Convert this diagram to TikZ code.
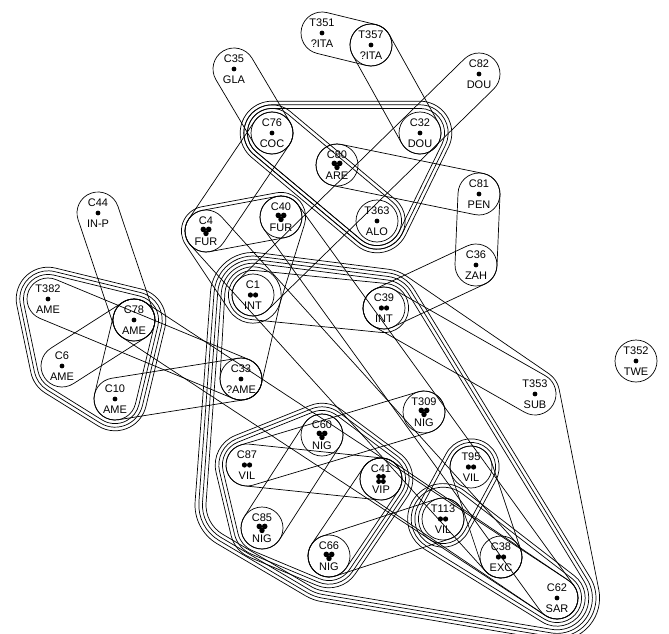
\documentclass[tikz,border=0pt]{standalone}
\usepackage{fontspec}
\setmainfont{Liberation Sans}
\usetikzlibrary{calc}
\tikzset{hl/.style={line width=0.7pt},lab/.style={font=\fontsize{11}{11}\selectfont,inner sep=0pt}}
\newcommand\hseg[4]{%
  \pgfpointdiff{\pgfpointanchor{#1}{center}}{\pgfpointanchor{#3}{center}}%
  \pgfgetlastxy\hdx\hdy
  \pgfmathsetmacro\hL{veclen(\hdx,\hdy)}%
  \pgfmathsetmacro\hang{atan2(\hdy,\hdx)}%
  \pgfmathsetmacro\hn{\hang-acos((#2-#4)/\hL)}%
}
\newcommand\hull[1]{%
  \gdef\hA{}\gdef\rA{0}\gdef\hB{}\gdef\rB{0}%
  \foreach \hC/\hR [count=\hcnt] in {#1}{%
    \ifnum\hcnt>2\relax
      \hseg{\hA}{\rA}{\hB}{\rB}\let\nA\hn
      \hseg{\hB}{\rB}{\hC}{\hR}\let\nB\hn
      \pgfmathsetmacro\nB{\nA+mod(\nB-\nA+720,360)}%
      \draw[hl] ($(\hB)+(\nA:\rB)$) arc[start angle=\nA,end angle=\nB,radius=\rB] -- ($(\hC)+(\nB:\hR)$);
    \fi
    \xdef\hA{\hB}\xdef\rA{\rB}\xdef\hB{\hC}\xdef\rB{\hR}%
  }%
}
\newcommand\capsule[3]{\hull{#1/#3,#2/#3,#1/#3,#2/#3}}
\newcommand\sdot[1]{\fill (#1) circle[radius=2.4];}
\newcommand\sdbl[1]{\fill ($(#1)+(-2.6,0)$) circle[radius=2.6] ($(#1)+(2.6,0)$) circle[radius=2.6];}
\newcommand\stri[1]{\fill ($(#1)+(-2.7,1.6)$) circle[radius=2.8] ($(#1)+(2.7,1.6)$) circle[radius=2.8] ($(#1)+(0,-2.5)$) circle[radius=2.7];}
\newcommand\squad[1]{\fill ($(#1)+(-2.3,2.5)$) circle[radius=2.5] ($(#1)+(2.3,2.5)$) circle[radius=2.5] ($(#1)+(-2.3,-2.5)$) circle[radius=2.5] ($(#1)+(2.3,-2.5)$) circle[radius=2.5];}
\newcommand\nd[6]{\coordinate (#1) at (#2,-#3);
  \node[lab] at (#2,-#3+10.5) {#4};
  \node[lab] at (#2,-#3-11) {#5};
  #6{#1}}
\begin{document}
\begin{tikzpicture}[x=1pt,y=1pt]
\useasboundingbox (0,0) rectangle (669,-634);
\nd{T351}{322}{33}{T351}{?ITA}{\sdot}
\nd{T357}{371}{45}{T357}{?ITA}{\sdot}
\nd{C35}{234}{69}{C35}{GLA}{\sdot}
\nd{C82}{479}{74}{C82}{DOU}{\sdot}
\nd{C76}{272}{133}{C76}{COC}{\sdot}
\nd{C32}{420}{133}{C32}{DOU}{\sdot}
\nd{C80}{337}{165}{C80}{ARE}{\stri}
\nd{C81}{479}{194}{C81}{PEN}{\sdot}
\nd{C40}{281}{217}{C40}{FUR}{\stri}
\nd{C4}{206}{231}{C4}{FUR}{\stri}
\nd{T363}{377}{221}{T363}{ALO}{\sdot}
\nd{C36}{476}{265}{C36}{ZAH}{\sdot}
\nd{C44}{98}{213}{C44}{IN-P}{\sdot}
\nd{T382}{48}{299}{T382}{AME}{\sdot}
\nd{C78}{134}{320}{C78}{AME}{\sdot}
\nd{C6}{62}{366}{C6}{AME}{\sdot}
\nd{C10}{115}{399}{C10}{AME}{\sdot}
\nd{C1}{253}{295}{C1}{INT}{\sdbl}
\nd{C39}{384}{308}{C39}{INT}{\sdbl}
\nd{C33}{241}{379}{C33}{?AME}{\sdot}
\nd{T353}{535}{394}{T353}{SUB}{\sdot}
\nd{T352}{636}{361}{T352}{TWE}{\sdot}
\nd{T309}{424}{412}{T309}{NIG}{\stri}
\nd{C60}{322}{435}{C60}{NIG}{\stri}
\nd{C87}{247}{465}{C87}{VIL}{\sdbl}
\nd{C41}{381}{479}{C41}{VIP}{\squad}
\nd{C85}{262}{528}{C85}{NIG}{\stri}
\nd{C66}{329}{556}{C66}{NIG}{\stri}
\nd{T95}{471}{467}{T95}{VIL}{\sdbl}
\nd{T113}{443}{519}{T113}{VIL}{\sdbl}
\nd{C38}{501}{557}{C38}{EXC}{\sdbl}
\nd{C62}{557}{598}{C62}{SAR}{\sdot}
\coordinate (Vbl) at (240,-505);
% own circles
\foreach \n in {T357,C76,C32,C80,T363,C40,C1,C39,C78,C33,T309,C60,C41,C85,C66,T95,T113,C38,T352}
  \draw[hl] (\n) circle[radius=21];
% single capsules
\capsule{T351}{T357}{21}
\capsule{T357}{C32}{21}
\capsule{C35}{C76}{21}
\capsule{C82}{C1}{21}
\capsule{C80}{C81}{21}
\capsule{C81}{C36}{21}
\capsule{C36}{C39}{21}
\capsule{C4}{C40}{21}
\capsule{C4}{C76}{21}
\capsule{C4}{C38}{21}
\capsule{C44}{C78}{21}
\capsule{C78}{C10}{21}
\capsule{C6}{C78}{21}
\capsule{T382}{C33}{21}
\capsule{C10}{C33}{21}
\capsule{C78}{C62}{21}
\capsule{C87}{T309}{21}
\capsule{C87}{C41}{21}
\capsule{C41}{C62}{21}
\capsule{C60}{C85}{21}
\capsule{C41}{C66}{21}
\capsule{C66}{T113}{21}
\capsule{T95}{C38}{21}
\capsule{C40}{C62}{21}
\capsule{C39}{T353}{21}
\hull{C1/28.2,C33/21,C1/28.2,C33/21}
% multi-line groups
\capsule{C76}{T363}{24.6}
\capsule{C76}{T363}{28.2}
\foreach \r in {24.6,28.2,31.8}{\hull{C32/\r,C76/\r,T363/\r,C32/\r,C76/\r}}
\foreach \r in {24.6,28.2,31.8}{\hull{T382/\r,C6/\r,C10/\r,C78/\r,T382/\r,C6/\r}}
\foreach \r in {24.6,28.2,31.8}{\hull{C60/\r,C87/\r,C85/\r,C66/\r,C41/\r,C60/\r,C87/\r}}
\capsule{T95}{T113}{24.6}
\capsule{T95}{T113}{28.2}
\hull{T113/31.8,C62/24.6,T113/31.8,C62/24.6}
\hull{T113/35.4,C62/28.2,T113/35.4,C62/28.2}
\hull{C40/24.6,C4/24.6,C1/28.2,C40/24.6,C4/24.6}
\capsule{C1}{C39}{24.6}
\foreach \i in {0,1,2}{%
  \pgfmathsetmacro\ra{31.8+3.6*\i}\pgfmathsetmacro\rb{34+3.6*\i}%
  \pgfmathsetmacro\rc{35.4+3.6*\i}\pgfmathsetmacro\rd{31.8+3.6*\i}%
  \pgfmathsetmacro\rf{28.2+3.6*\i}%
  \hull{C1/\ra,Vbl/\rb,C66/\rc,C62/\rd,C39/\rf,C1/\ra,Vbl/\rb}}
\hull{C1/42.6,Vbl/45,C66/46.2,C62/42.6,T353/24.6,C39/39,C1/42.6,Vbl/45}
\end{tikzpicture}
\end{document}
